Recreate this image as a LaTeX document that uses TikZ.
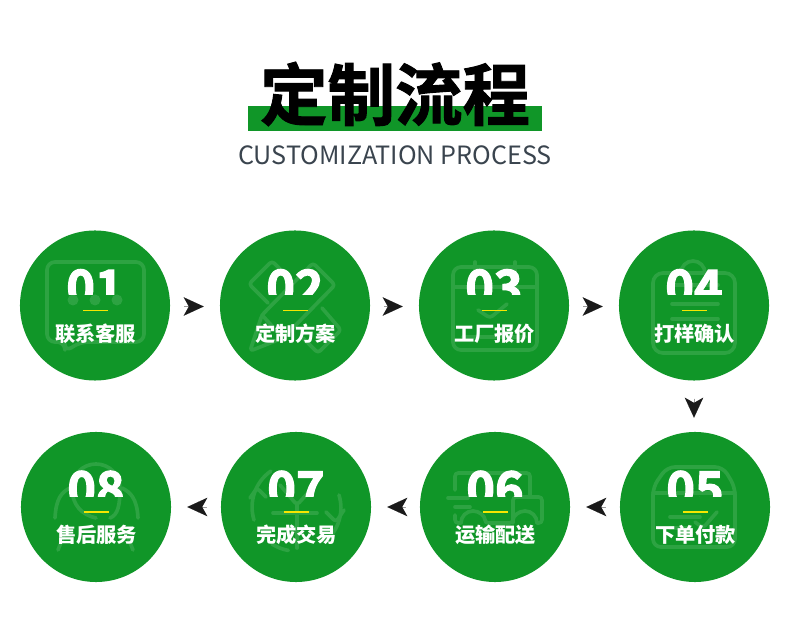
\documentclass[tikz,border=0pt]{standalone}
\usepackage{fontspec}
\setmainfont{Noto Sans CJK SC}
\newfontfamily\cjk{Noto Sans CJK SC}
\newfontfamily\cjkheavy[FakeBold=1.4]{Noto Sans CJK SC Bold}
\newfontfamily\cjknum[FakeBold=2.6]{Noto Sans CJK SC Bold}
\usetikzlibrary{arrows.meta}
\definecolor{stepgreen}{HTML}{109628}
\definecolor{subgray}{HTML}{3A444E}
\definecolor{tipblack}{HTML}{1A1A1A}
\definecolor{dashyellow}{HTML}{F6E600}
\colorlet{icongreen}{white!12!stepgreen}
\tikzset{
	stepdisc/.style={circle,fill=stepgreen,minimum size=3.75cm,inner sep=0pt},
	steplabel/.style={text=white,font=\cjk\bfseries\fontsize{14.4}{16}\selectfont,inner sep=0pt},
	stepnum/.style={text=white,font=\cjknum\fontsize{34.5}{36}\selectfont,inner sep=0pt,anchor=base},
	iconline/.style={draw=icongreen,line width=2.6pt,line join=round,line cap=round,rounded corners=0.08cm},
	flowtip/.style={-{Stealth[length=0.5cm,width=0.46cm,inset=0.13cm]},draw=tipblack,fill=tipblack,line width=0.01pt,shorten <=0.35cm,shorten >=0.4cm},
}

\begin{document}
\begin{tikzpicture}[x=0.025cm,y=-0.025cm]
	\useasboundingbox (0,0) rectangle (790,636);

	% ---- 标题 ----
	\fill[stepgreen] (248,106) rectangle (542,131);
	\node[font=\cjkheavy\fontsize{48}{50}\selectfont,inner sep=0pt,text=black] (title) at (395,94) {定制流程};
	\node[font=\cjk\fontsize{17.9}{20}\selectfont,text=subgray,inner sep=0pt] (subtitle) at (395,155) {CUSTOMIZATION PROCESS};

	% ---- 圆盘 ----
	\foreach \i/\cx/\cy in {1/95/305.5,2/295/305.5,3/494/305.5,4/694/305.5,5/695/507,6/495/507,7/296/507,8/96/507}
		\node[stepdisc] (step\i) at (\cx,\cy) {};

	% ---- 图标 01 对话框 ----
	\draw[iconline,rounded corners=0.2cm] (65,342) -- (65,352) -- (80,342) -- (144,342) -- (144,262) -- (47,262) -- (47,342) -- cycle;
	\fill[icongreen] (73,300) circle (5.5) (95,300) circle (5.5) (117,300) circle (5.5);

	% ---- 图标 02 笔和尺 ----
	\draw[iconline] (250,351) -- (262,315) -- (313,263) -- (335,285) -- (283,338) -- cycle;
	\draw[iconline] (262,315) -- (283,338);
	\draw[iconline] (283,272) -- (272,261) -- (249,284) -- (268,303);
	\draw[iconline] (322,308) -- (341,330) -- (318,353) -- (303,338);

	% ---- 图标 03 日历 ----
	\draw[iconline,rounded corners=0.2cm] (453,267) rectangle (537,350);
	\draw[iconline] (453,287) -- (537,287);
	\draw[iconline] (475,262) -- (475,272) (515,262) -- (515,272);
	\draw[iconline] (478,310) -- (490,318) -- (507,304);
	\draw[iconline] (463,337) -- (525,337);

	% ---- 图标 04 写字板 ----
	\draw[iconline,rounded corners=0.25cm] (653,273) rectangle (735,353);
	\draw[iconline] (681,273) arc (180:360:12);
	\draw[iconline] (672,285) -- (718,285) (672,304) -- (718,304) (672,319) -- (718,319);

	% ---- 图标 05 包裹 ----
	\draw[iconline,rounded corners=0.2cm] (667,467) -- (723,467) -- (735,487) -- (735,547) -- (653,547) -- (653,487) -- cycle;
	\draw[iconline] (653,493) -- (735,493);
	\draw[iconline] (670,517) -- (700,517) (670,528) -- (690,528);
	\draw[iconline] (695,522) -- (703,528) -- (717,512);

	% ---- 图标 06 货车 ----
	\draw[iconline] (455,490) -- (455,473) -- (530,473) -- (530,497);
	\draw[iconline] (513,523) -- (513,497) -- (542,497) -- (542,523) -- (537,523);
	\draw[iconline] (448,498) -- (468,498) (455,507) -- (470,507);
	\draw[iconline] (455,515) -- (455,523) -- (461,523);
	\draw[iconline] (461,523) arc (180:360:12) -- (513,523) arc (180:360:12);

	% ---- 图标 07 交易 ----
	\draw[iconline] (254,520) arc (163:235:44);
	\draw[iconline] (339,495) arc (-17:50:44);
	\draw[iconline] (272,544) arc (123:100:44);
	\draw[iconline] (250,498) -- (257,488) -- (266,497);
	\draw[iconline] (280,485) -- (297,505) -- (315,485);
	\draw[iconline] (273,513) -- (317,513) (297,505) -- (297,548);
	\draw[iconline] (326,512) -- (336,522) -- (344,510);

	% ---- 图标 08 客服 ----
	\draw[iconline] (72,488) arc (180:360:24);
	\draw[iconline] (72,488) .. controls (72,505) and (82,515) .. (96,518);
	\draw[iconline] (120,488) .. controls (120,505) and (118,515) .. (110,518);
	\draw[iconline] (70,488) .. controls (62,492) and (56,498) .. (55,518);
	\draw[iconline] (122,488) .. controls (130,492) and (137,498) .. (138,518);
	\draw[iconline] (58,550) .. controls (60,545) and (62,540) .. (64,535);
	\draw[iconline] (133,550) .. controls (131,545) and (129,540) .. (127,535);

	% ---- 序号（下端被裁切）、黄线、文字 ----
	\foreach \i/\cx/\cy/\num/\name in {1/95/305.5/01/联系客服,2/295/305.5/02/定制方案,3/494/305.5/03/工厂报价,4/694/305.5/04/打样确认,5/695/507/05/下单付款,6/495/507/06/运输配送,7/296/507/07/完成交易,8/96/507/08/售后服务}{
		\begin{scope}
			\clip (\cx-60,\cy-50) rectangle (\cx+60,\cy-10.5);
			\node[stepnum] (num\i) at (\cx,\cy-0.5) {\num};
		\end{scope}
		\draw[dashyellow,line width=1.3pt] (\cx-12,\cy+5) -- (\cx+13,\cy+5);
		\node[steplabel] (label\i) at (\cx+0.5,\cy+28) {\name};
	}

	% ---- 箭头 ----
	\draw[flowtip] (step1) ++(75,1) coordinate (a1) -- (a1 -| step2.west);
	\draw[flowtip] (step2) ++(75,1) coordinate (a2) -- (a2 -| step3.west);
	\draw[flowtip] (step3) ++(75,1) coordinate (a3) -- (a3 -| step4.west);
	\draw[flowtip,shorten <=0.45cm,shorten >=0.35cm] (step4.south) -- (step4.south |- step5.north);
	\draw[flowtip] (step5.west) -- (step6.east);
	\draw[flowtip] (step6.west) -- (step7.east);
	\draw[flowtip] (step7.west) -- (step8.east);
\end{tikzpicture}
\end{document}
